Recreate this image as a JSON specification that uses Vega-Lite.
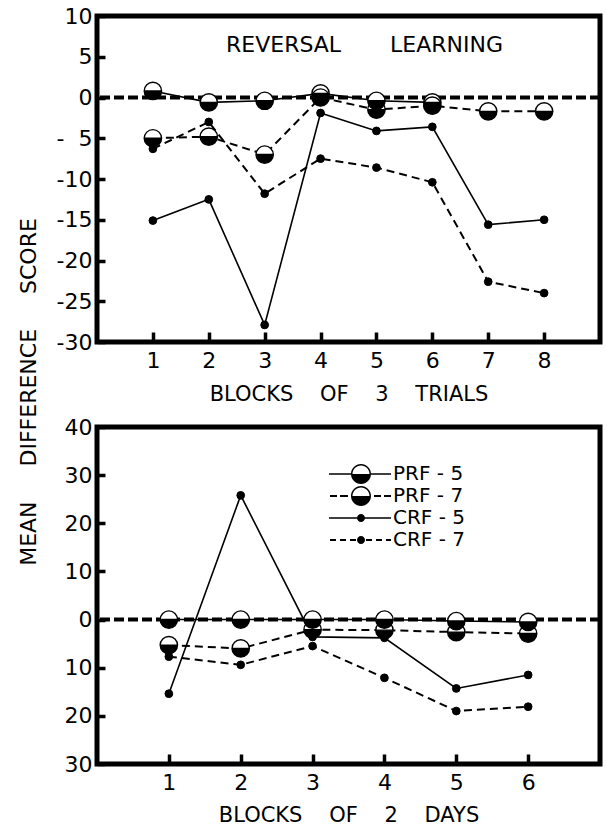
{
  "$schema": "https://vega.github.io/schema/vega-lite/v6.json",
  "background": "white",
  "padding": {"left": 17, "top": 2, "right": 0, "bottom": 0},
  "title": {"text": "MEAN \u00a0\u00a0\u00a0\u00a0DIFFERENCE \u00a0\u00a0\u00a0\u00a0SCORE", "orient": "left", "anchor": "middle", "fontSize": 22, "font": "DejaVu Sans", "fontWeight": "normal", "color": "black", "offset": 13, "dx": 23},
  "datasets": {
    "top": [
      {"block": 1, "value": 0.8, "series": "PRF - 5"},
      {"block": 2, "value": -0.6, "series": "PRF - 5"},
      {"block": 3, "value": -0.4, "series": "PRF - 5"},
      {"block": 4, "value": 0.5, "series": "PRF - 5"},
      {"block": 5, "value": -0.4, "series": "PRF - 5"},
      {"block": 6, "value": -0.6, "series": "PRF - 5"},
      {"block": 1, "value": -5.0, "series": "PRF - 7"},
      {"block": 2, "value": -4.8, "series": "PRF - 7"},
      {"block": 3, "value": -7.0, "series": "PRF - 7"},
      {"block": 4, "value": 0.0, "series": "PRF - 7"},
      {"block": 5, "value": -1.5, "series": "PRF - 7"},
      {"block": 6, "value": -1.0, "series": "PRF - 7"},
      {"block": 7, "value": -1.7, "series": "PRF - 7"},
      {"block": 8, "value": -1.7, "series": "PRF - 7"},
      {"block": 1, "value": -15.1, "series": "CRF - 5"},
      {"block": 2, "value": -12.5, "series": "CRF - 5"},
      {"block": 3, "value": -27.9, "series": "CRF - 5"},
      {"block": 4, "value": -1.9, "series": "CRF - 5"},
      {"block": 5, "value": -4.1, "series": "CRF - 5"},
      {"block": 6, "value": -3.6, "series": "CRF - 5"},
      {"block": 7, "value": -15.6, "series": "CRF - 5"},
      {"block": 8, "value": -15.0, "series": "CRF - 5"},
      {"block": 1, "value": -6.3, "series": "CRF - 7"},
      {"block": 2, "value": -3.0, "series": "CRF - 7"},
      {"block": 3, "value": -11.8, "series": "CRF - 7"},
      {"block": 4, "value": -7.5, "series": "CRF - 7"},
      {"block": 5, "value": -8.6, "series": "CRF - 7"},
      {"block": 6, "value": -10.4, "series": "CRF - 7"},
      {"block": 7, "value": -22.6, "series": "CRF - 7"},
      {"block": 8, "value": -24.0, "series": "CRF - 7"}
    ],
    "bottom": [
      {"block": 1, "value": 0.0, "series": "PRF - 5"},
      {"block": 2, "value": 0.0, "series": "PRF - 5"},
      {"block": 3, "value": 0.0, "series": "PRF - 5"},
      {"block": 4, "value": 0.0, "series": "PRF - 5"},
      {"block": 5, "value": -0.3, "series": "PRF - 5"},
      {"block": 6, "value": -0.5, "series": "PRF - 5"},
      {"block": 1, "value": -5.3, "series": "PRF - 7"},
      {"block": 2, "value": -6.0, "series": "PRF - 7"},
      {"block": 3, "value": -2.1, "series": "PRF - 7"},
      {"block": 4, "value": -2.2, "series": "PRF - 7"},
      {"block": 5, "value": -2.6, "series": "PRF - 7"},
      {"block": 6, "value": -2.9, "series": "PRF - 7"},
      {"block": 1, "value": -15.4, "series": "CRF - 5"},
      {"block": 2, "value": 25.8, "series": "CRF - 5"},
      {"block": 3, "value": -3.6, "series": "CRF - 5"},
      {"block": 4, "value": -3.8, "series": "CRF - 5"},
      {"block": 5, "value": -14.3, "series": "CRF - 5"},
      {"block": 6, "value": -11.5, "series": "CRF - 5"},
      {"block": 1, "value": -7.7, "series": "CRF - 7"},
      {"block": 2, "value": -9.4, "series": "CRF - 7"},
      {"block": 3, "value": -5.5, "series": "CRF - 7"},
      {"block": 4, "value": -12.1, "series": "CRF - 7"},
      {"block": 5, "value": -19.0, "series": "CRF - 7"},
      {"block": 6, "value": -18.1, "series": "CRF - 7"}
    ]
  },
  "spacing": 6,
  "vconcat": [
    {
      "width": 503,
      "height": 326,
      "title": {"text": "REVERSAL \u00a0\u00a0\u00a0\u00a0\u00a0\u00a0LEARNING", "offset": -52, "fontSize": 22, "fontWeight": "normal", "anchor": "middle", "dx": 16, "color": "black"},
      "data": {"name": "top"},
      "layer": [
        {
          "data": {"values": [{}]},
          "mark": {"type": "rule", "strokeDash": [10, 4], "strokeWidth": 4, "color": "black"},
          "encoding": {"y": {"datum": 0, "type": "quantitative"}}
        },
        {
          "transform": [{"filter": "datum.series == 'PRF - 5' || datum.series == 'CRF - 5'"}],
          "mark": {"type": "line", "color": "black", "strokeWidth": 1.6},
          "encoding": {
            "x": {"field": "block", "type": "quantitative", "scale": {"domain": [0, 9], "nice": false}, "axis": {"values": [1, 2, 3, 4, 5, 6, 7, 8], "format": "d", "title": "BLOCKS \u00a0\u00a0\u00a0OF \u00a0\u00a0\u00a03 \u00a0\u00a0\u00a0TRIALS"}},
            "y": {"field": "value", "type": "quantitative", "scale": {"domain": [-30, 10], "nice": false}, "axis": {"values": [-30, -25, -20, -15, -10, -5, 0, 5, 10], "title": null, "labelExpr": "datum.value < 0 ? (datum.value == -5 ? '-\u00a0 5' : '-' + abs(datum.value)) : '' + datum.value"}},
            "detail": {"field": "series", "type": "nominal"}
          }
        },
        {
          "transform": [{"filter": "datum.series == 'PRF - 7' || datum.series == 'CRF - 7'"}],
          "mark": {"type": "line", "color": "black", "strokeWidth": 2, "strokeDash": [8, 5]},
          "encoding": {
            "x": {"field": "block", "type": "quantitative"},
            "y": {"field": "value", "type": "quantitative"},
            "detail": {"field": "series", "type": "nominal"}
          }
        },
        {
          "transform": [{"filter": "indexof(datum.series, 'PRF') == 0"}],
          "mark": {"type": "point", "shape": "circle", "filled": true, "fill": "white", "strokeWidth": 0, "opacity": 1, "size": 300},
          "encoding": {"x": {"field": "block", "type": "quantitative"}, "y": {"field": "value", "type": "quantitative"}}
        },
        {
          "transform": [{"filter": "indexof(datum.series, 'PRF') == 0"}],
          "mark": {"type": "point", "filled": true, "fill": "black", "stroke": "black", "strokeWidth": 1.4, "opacity": 1, "size": 300, "shape": "M -1 0 A 1 1 0 1 1 1 0 A 1 1 0 1 1 -1 0 Z M -1 0 L 1 0 A 1 1 0 0 0 -1 0 Z"},
          "encoding": {"x": {"field": "block", "type": "quantitative"}, "y": {"field": "value", "type": "quantitative"}}
        },
        {
          "transform": [{"filter": "indexof(datum.series, 'CRF') == 0"}],
          "mark": {"type": "point", "shape": "circle", "filled": true, "fill": "black", "stroke": "black", "strokeWidth": 1, "opacity": 1, "size": 60},
          "encoding": {"x": {"field": "block", "type": "quantitative"}, "y": {"field": "value", "type": "quantitative"}}
        }
      ]
    },
    {
      "width": 503,
      "height": 337,
      "data": {"name": "bottom"},
      "layer": [
        {
          "data": {"values": [{}]},
          "mark": {"type": "rule", "strokeDash": [10, 4], "strokeWidth": 4, "color": "black"},
          "encoding": {"y": {"datum": 0, "type": "quantitative"}}
        },
        {
          "transform": [{"filter": "datum.series == 'PRF - 5' || datum.series == 'CRF - 5'"}],
          "mark": {"type": "line", "color": "black", "strokeWidth": 1.6},
          "encoding": {
            "x": {"field": "block", "type": "quantitative", "scale": {"domain": [0, 7], "nice": false}, "axis": {"values": [1, 2, 3, 4, 5, 6], "format": "d", "title": "BLOCKS \u00a0\u00a0\u00a0OF \u00a0\u00a0\u00a02 \u00a0\u00a0\u00a0DAYS", "titlePadding": 11}},
            "y": {"field": "value", "type": "quantitative", "scale": {"domain": [-30, 40], "nice": false}, "axis": {"values": [-30, -20, -10, 0, 10, 20, 30, 40], "title": null, "labelExpr": "'' + abs(datum.value)"}},
            "detail": {"field": "series", "type": "nominal"}
          }
        },
        {
          "transform": [{"filter": "datum.series == 'PRF - 7' || datum.series == 'CRF - 7'"}],
          "mark": {"type": "line", "color": "black", "strokeWidth": 2, "strokeDash": [8, 5]},
          "encoding": {
            "x": {"field": "block", "type": "quantitative"},
            "y": {"field": "value", "type": "quantitative"},
            "detail": {"field": "series", "type": "nominal"}
          }
        },
        {
          "transform": [{"filter": "indexof(datum.series, 'PRF') == 0"}],
          "mark": {"type": "point", "shape": "circle", "filled": true, "fill": "white", "strokeWidth": 0, "opacity": 1, "size": 300},
          "encoding": {"x": {"field": "block", "type": "quantitative"}, "y": {"field": "value", "type": "quantitative"}}
        },
        {
          "transform": [{"filter": "indexof(datum.series, 'PRF') == 0"}],
          "mark": {"type": "point", "filled": true, "fill": "black", "stroke": "black", "strokeWidth": 1.4, "opacity": 1, "size": 300, "shape": "M -1 0 A 1 1 0 1 1 1 0 A 1 1 0 1 1 -1 0 Z M -1 0 L 1 0 A 1 1 0 0 0 -1 0 Z"},
          "encoding": {"x": {"field": "block", "type": "quantitative"}, "y": {"field": "value", "type": "quantitative"}}
        },
        {
          "transform": [{"filter": "indexof(datum.series, 'CRF') == 0"}],
          "mark": {"type": "point", "shape": "circle", "filled": true, "fill": "black", "stroke": "black", "strokeWidth": 1, "opacity": 1, "size": 60},
          "encoding": {"x": {"field": "block", "type": "quantitative"}, "y": {"field": "value", "type": "quantitative"}}
        },
        {
          "mark": {"type": "point", "filled": true, "fill": "black", "strokeWidth": 0, "opacity": 0, "size": 400},
          "encoding": {
            "x": {"field": "block", "type": "quantitative"},
            "y": {"field": "value", "type": "quantitative"},
            "shape": {
              "field": "series", "type": "nominal",
              "scale": {"domain": ["PRF - 5", "PRF - 7", "CRF - 5", "CRF - 7"], "range": [
                "M -3.2 -0.08 L -1 -0.08 L -1 0.08 L -3.2 0.08 Z M 1 -0.08 L 3 -0.08 L 3 0.08 L 1 0.08 Z M -1 0 A 1 1 0 0 0 1 0 Z M -1 0 A 1 1 0 0 1 1 0 L 0.85 0 A 0.85 0.85 0 0 0 -0.85 0 Z",
                "M -3.1 -0.1 L -2.4 -0.1 L -2.4 0.1 L -3.1 0.1 Z M -2.1 -0.1 L -1.3 -0.1 L -1.3 0.1 L -2.1 0.1 Z M 1.3 -0.1 L 2 -0.1 L 2 0.1 L 1.3 0.1 Z M 2.3 -0.1 L 3 -0.1 L 3 0.1 L 2.3 0.1 Z M -1 0 A 1 1 0 0 0 1 0 Z M -1 0 A 1 1 0 0 1 1 0 L 0.85 0 A 0.85 0.85 0 0 0 -0.85 0 Z",
                "M -3.2 -0.08 L 3 -0.08 L 3 0.08 L -3.2 0.08 Z M -0.4 0 A 0.4 0.4 0 1 1 0.4 0 A 0.4 0.4 0 1 1 -0.4 0 Z",
                "M -3.1 -0.1 L -2.5 -0.1 L -2.5 0.1 L -3.1 0.1 Z M -2.1 -0.1 L -1.5 -0.1 L -1.5 0.1 L -2.1 0.1 Z M -1.1 -0.1 L -0.5 -0.1 L -0.5 0.1 L -1.1 0.1 Z M 0.5 -0.1 L 1.1 -0.1 L 1.1 0.1 L 0.5 0.1 Z M 1.5 -0.1 L 2.1 -0.1 L 2.1 0.1 L 1.5 0.1 Z M 2.5 -0.1 L 3 -0.1 L 3 0.1 L 2.5 0.1 Z M -0.4 0 A 0.4 0.4 0 1 1 0.4 0 A 0.4 0.4 0 1 1 -0.4 0 Z"
              ]},
              "legend": {
                "title": null,
                "orient": "none",
                "legendX": 254,
                "legendY": 37,
                "labelFontSize": 20,
                "labelFont": "DejaVu Sans",
                "labelColor": "black",
                "labelOffset": 22,
                "symbolSize": 400,
                "rowPadding": 2,
                "symbolOpacity": 1,
                "symbolFillColor": "black",
                "symbolStrokeWidth": 0
              }
            }
          }
        }
      ]
    }
  ],
  "resolve": {
    "scale": {"shape": "independent"},
    "legend": {"shape": "independent"}
  },
  "config": {
    "font": "DejaVu Sans",
    "view": {"stroke": "black", "strokeWidth": 5},
    "title": {"font": "DejaVu Sans", "color": "black"},
    "axis": {"grid": false, "domain": false, "tickColor": "black", "tickWidth": 3.5, "labelColor": "black", "labelFontSize": 22, "labelFont": "DejaVu Sans", "titleFont": "DejaVu Sans", "titleFontSize": 21, "titleFontWeight": "normal", "titleColor": "black"},
    "axisX": {"tickSize": -10, "labelPadding": 18, "titlePadding": 12},
    "axisY": {"tickSize": -8, "labelPadding": 13}
  }
}
